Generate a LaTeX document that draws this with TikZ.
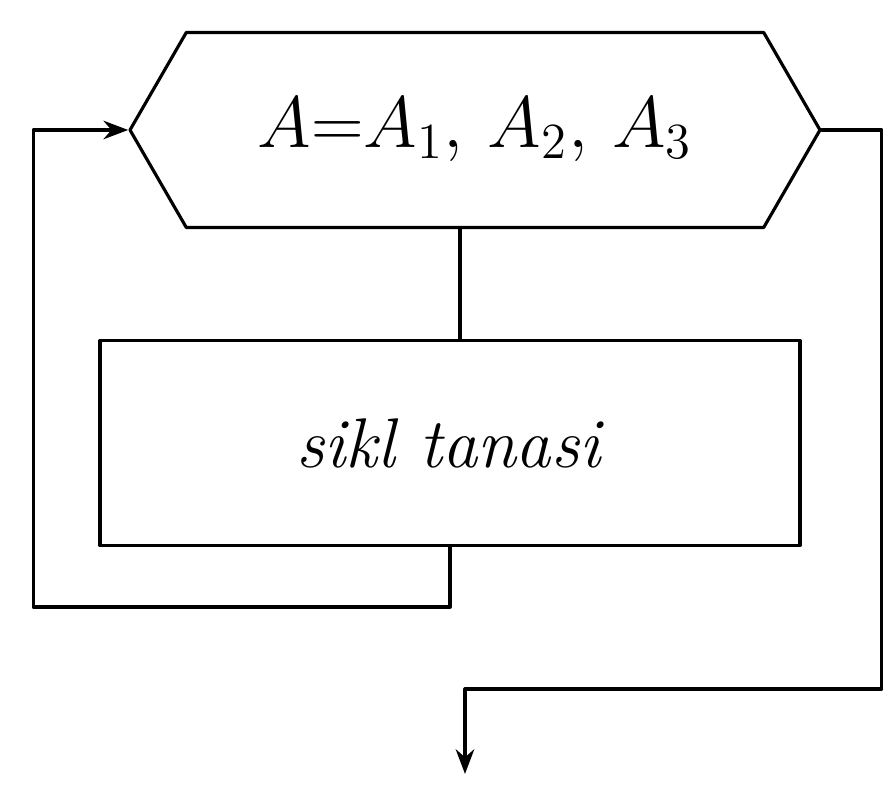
\documentclass[tikz,border=0pt]{standalone}
\usepackage{amsmath}
\usetikzlibrary{arrows.meta,shapes.symbols,calc}
\tikzset{
  every picture/.style={line join=round, line cap=round, >=Stealth},
  flow/.style={line width=0.9pt},
  loophex/.style={draw, flow, shape=signal, signal to=west and east, signal pointer angle=120,
    minimum width=6.9cm, minimum height=1.95cm, inner sep=0pt},
  bodybox/.style={draw, flow, rectangle, minimum width=7cm, minimum height=2.05cm},
  bigtext/.style={font=\fontsize{20}{24}\selectfont},
}

\begin{document}
\begin{tikzpicture}
\useasboundingbox (0,0) rectangle (8.94,7.94);
\node[loophex, bigtext] (hex) at (4.75,6.64) {$A{=}A_1,\,A_2,\,A_3$\hspace{0.25cm}};
\node[bodybox, bigtext] (body) at (4.5,3.51) {\textit{sikl tanasi}};
\coordinate (stem) at (4.6,0);
\coordinate (exit) at (4.65,0.2);
% loop body
\draw[flow] (hex.south -| stem) -- (body.north -| stem);
% return to the header
\draw[flow,->] (body.south) -- ++(0,-0.6) -| ($(hex.west)+(-0.95,0)$) -- (hex.west);
% leave the loop
\draw[flow,->] (hex.east) -- ++(0.6,0) |- ($(exit)+(0,0.85)$) -- (exit);
\end{tikzpicture}
\end{document}
